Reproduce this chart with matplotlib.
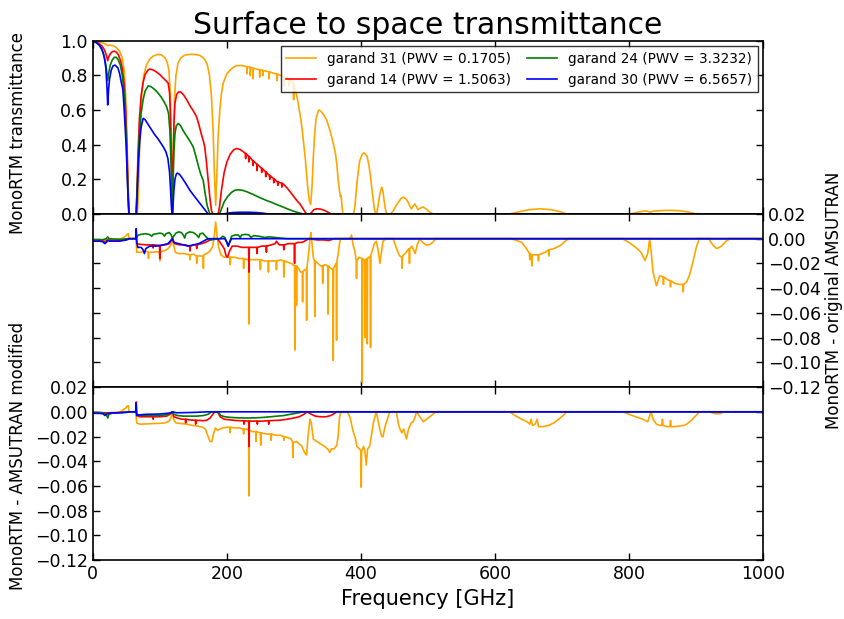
import numpy as np
import matplotlib.pyplot as plt
from matplotlib.ticker import FormatStrFormatter

plt.rcParams['font.family'] = 'DejaVu Sans'
plt.rcParams['axes.linewidth'] = 1.2

labels = ['garand 31 (PWV = 0.1705)', 'garand 14 (PWV = 1.5063)',
          'garand 24 (PWV = 3.3232)', 'garand 30 (PWV = 6.5657)']
colors = ['orange', 'red', 'green', 'blue']

# surface to space transmittance, (frequency GHz, transmittance)
trans_g31 = np.array([
    (0, 1.0), (5, 0.997), (10, 0.993), (15, 0.988), (19, 0.982), (22.2, 0.972), (25, 0.976),
    (30, 0.972), (35, 0.962), (40, 0.94), (44, 0.9), (47, 0.82), (49, 0.68), (51, 0.42),
    (53, 0.12), (54.5, 0.0), (66.5, 0.0), (68, 0.12), (69.5, 0.35), (71, 0.56), (73, 0.7),
    (76, 0.8), (80, 0.86), (85, 0.895), (90, 0.912), (97, 0.922), (103, 0.918), (108, 0.9),
    (111, 0.875), (113.5, 0.83), (115.5, 0.7), (117, 0.42), (118.75, 0.0), (120.5, 0.42),
    (122, 0.68), (124, 0.8), (127, 0.87), (131, 0.9), (136, 0.915), (140, 0.92), (145, 0.922),
    (150, 0.922), (155, 0.92), (160, 0.915), (164, 0.905), (168, 0.885), (171, 0.86),
    (174, 0.8), (177, 0.68), (179.5, 0.48), (181.5, 0.22), (183.3, 0.05), (185, 0.22),
    (187, 0.45), (189.5, 0.6), (192, 0.7), (194.5, 0.756), (200, 0.81), (204.5, 0.83),
    (210, 0.848), (214, 0.856), (220, 0.858), (226, 0.855), (229.6, 0.851), (230, 0.81),
    (230.4, 0.85), (234.6, 0.847), (235, 0.8), (235.4, 0.846), (238.6, 0.842), (239, 0.78),
    (239.4, 0.842), (244, 0.837), (248.6, 0.833), (249, 0.79), (249.4, 0.833), (253.6, 0.829),
    (254, 0.8), (254.4, 0.829), (262.6, 0.821), (263, 0.78), (263.4, 0.821), (272, 0.81),
    (274.6, 0.808), (275, 0.77), (275.4, 0.808), (284, 0.795), (284.6, 0.792), (285, 0.74),
    (285.4, 0.791), (290, 0.785), (292.6, 0.78), (293, 0.74), (293.4, 0.779), (297, 0.765),
    (299.2, 0.75), (299.6, 0.66), (300, 0.745), (301.5, 0.727), (305, 0.67), (309, 0.58),
    (312, 0.5), (314, 0.43), (317, 0.32), (319, 0.23), (321, 0.14), (323, 0.08), (325, 0.055),
    (327, 0.15), (329, 0.33), (331, 0.46), (333, 0.55), (336.8, 0.6), (340, 0.595), (344, 0.575),
    (349, 0.543), (354, 0.48), (359, 0.405), (362, 0.35), (364, 0.29), (366, 0.2),
    (368, 0.136), (369.5, 0.1), (370.5, 0.107), (371.5, 0.06), (373, 0.0), (389, 0.0),
    (391, 0.04), (394, 0.174), (396.5, 0.26), (398.5, 0.31), (402, 0.345), (404.5, 0.353),
    (407, 0.345), (409.5, 0.33), (412, 0.28), (414.5, 0.213), (416.5, 0.14), (418.5, 0.078),
    (420, 0.03), (422, 0.0), (424, 0.01), (426, 0.058), (428.5, 0.12), (431, 0.155),
    (433, 0.13), (434.6, 0.078), (436.5, 0.03), (438.6, 0.0), (444, 0.0), (448.5, 0.019),
    (452, 0.045), (456, 0.068), (460, 0.09), (463, 0.097), (467, 0.088), (470.5, 0.068),
    (473, 0.045), (475.5, 0.029), (478, 0.045), (480.5, 0.058), (483, 0.04), (485.5, 0.025),
    (489, 0.035), (493, 0.04), (497, 0.03), (500, 0.02), (504, 0.008), (508, 0.0), (622, 0.0),
    (635, 0.012), (650, 0.024), (667, 0.03), (685, 0.024), (698, 0.012), (707, 0.0),
    (801, 0.0), (815, 0.012), (826, 0.018), (831, 0.01), (836, 0.016), (850, 0.02),
    (861, 0.021), (875, 0.019), (890, 0.01), (901, 0.0), (1000, 0.0)])

trans_g14 = np.array([
    (0, 1.0), (5, 0.993), (10, 0.982), (14, 0.968), (17, 0.95), (19.5, 0.925), (21, 0.905),
    (22.2, 0.885), (23.5, 0.905), (26, 0.925), (29, 0.937), (32, 0.94), (35, 0.935), (38, 0.92),
    (41, 0.89), (44, 0.84), (47, 0.74), (49, 0.6), (51, 0.38), (52.5, 0.15), (54, 0.0),
    (64.5, 0.0), (66, 0.15), (67.5, 0.36), (69.5, 0.55), (72, 0.68), (75, 0.76), (78, 0.805),
    (82, 0.83), (85, 0.837), (90, 0.832), (95, 0.82), (100, 0.805), (105, 0.785), (109, 0.77),
    (112.4, 0.756), (114.5, 0.7), (116, 0.55), (117.3, 0.3), (118.75, 0.0), (119.8, 0.3),
    (121, 0.52), (122.5, 0.64), (125, 0.69), (128, 0.705), (131, 0.705), (135, 0.69),
    (140, 0.66), (145, 0.625), (150, 0.595), (154.7, 0.562), (158, 0.52), (162, 0.46),
    (165, 0.42), (167, 0.388), (169.5, 0.3), (172, 0.2), (174.5, 0.1), (177, 0.02), (179, 0.0),
    (187, 0.0), (189, 0.04), (192, 0.14), (196, 0.24), (200, 0.3), (205, 0.345), (210, 0.37),
    (214.5, 0.378), (220, 0.372), (226, 0.355), (227.6, 0.35), (228, 0.32), (228.4, 0.349),
    (232, 0.335), (232.6, 0.333), (233, 0.3), (233.4, 0.332), (238, 0.31), (238.6, 0.308),
    (239, 0.28), (239.4, 0.307), (244, 0.29), (244.6, 0.288), (245, 0.25), (245.4, 0.287),
    (250, 0.27), (251.6, 0.265), (252, 0.24), (252.4, 0.264), (256, 0.25), (257.6, 0.245),
    (258, 0.215), (258.4, 0.244), (262, 0.228), (263.6, 0.223), (264, 0.2), (264.4, 0.222),
    (268, 0.21), (269.6, 0.204), (270, 0.18), (270.4, 0.203), (274, 0.19), (275.6, 0.186),
    (276, 0.165), (276.4, 0.185), (280, 0.18), (281.6, 0.178), (282, 0.155), (282.4, 0.177),
    (284, 0.174), (290, 0.15), (295, 0.125), (300, 0.1), (305, 0.075), (309, 0.058),
    (313, 0.035), (316, 0.015), (319, 0.0), (324, 0.0), (327, 0.012), (330, 0.025),
    (334, 0.03), (340, 0.028), (346, 0.02), (351, 0.01), (356, 0.0), (1000, 0.0)])

trans_g24 = np.array([
    (0, 1.0), (5, 0.99), (10, 0.972), (14, 0.945), (17, 0.91), (19.5, 0.86), (21, 0.81),
    (22.2, 0.77), (23.5, 0.81), (26, 0.86), (29, 0.89), (32, 0.905), (35, 0.905), (38, 0.89),
    (41, 0.86), (44, 0.8), (47, 0.68), (49, 0.52), (51, 0.3), (52.5, 0.1), (54, 0.0),
    (64.5, 0.0), (66, 0.12), (67.5, 0.3), (69.5, 0.46), (72, 0.58), (75, 0.66), (78, 0.71),
    (82.6, 0.74), (87, 0.735), (92, 0.72), (97, 0.7), (102, 0.675), (106, 0.65), (110, 0.62),
    (113, 0.58), (115, 0.48), (116.8, 0.28), (118.75, 0.0), (119.8, 0.2), (121, 0.36),
    (122.5, 0.46), (124.5, 0.51), (127.4, 0.523), (131, 0.51), (135, 0.48), (140, 0.45),
    (145, 0.42), (149.7, 0.388), (154, 0.33), (158, 0.27), (161, 0.23), (164.7, 0.194),
    (167.5, 0.12), (170.5, 0.05), (174.6, 0.0), (189, 0.0), (192, 0.03), (196, 0.07),
    (201, 0.1), (207, 0.125), (212, 0.137), (217, 0.14), (223, 0.137), (230, 0.128),
    (238, 0.115), (246, 0.1), (253, 0.088), (259, 0.078), (266, 0.068), (274, 0.055),
    (282, 0.043), (290, 0.03), (298, 0.018), (306, 0.008), (314, 0.0), (1000, 0.0)])

trans_g30 = np.array([
    (0, 1.0), (5, 0.99), (10, 0.975), (13, 0.955), (15.5, 0.93), (17.5, 0.895), (19.5, 0.84),
    (21, 0.74), (22.2, 0.63), (23.5, 0.72), (25, 0.78), (27.4, 0.83), (30, 0.855), (33, 0.86),
    (37.3, 0.845), (40, 0.81), (42.5, 0.76), (44.8, 0.72), (46.5, 0.62), (48.5, 0.48),
    (49.8, 0.39), (51.5, 0.2), (53.7, 0.0), (65, 0.0), (66.5, 0.15), (68, 0.3), (70, 0.42),
    (72, 0.5), (75, 0.552), (78, 0.545), (82, 0.52), (87, 0.49), (92, 0.46), (98, 0.43),
    (105, 0.388), (109, 0.36), (112, 0.32), (114.5, 0.24), (116, 0.14), (117.4, 0.03),
    (118.75, 0.0), (119.8, 0.06), (121, 0.14), (122.5, 0.2), (124.5, 0.23), (126, 0.236),
    (129, 0.23), (133, 0.21), (138, 0.18), (145, 0.136), (150, 0.11), (155, 0.085),
    (160, 0.06), (165, 0.035), (169, 0.015), (172, 0.0), (195, 0.0), (200, 0.004),
    (208, 0.008), (220, 0.01), (232, 0.01), (245, 0.008), (255, 0.004), (262, 0.0), (1000, 0.0)])

# MonoRTM minus original AMSUTRAN
diff_orig_g31 = np.array([
    (0, -0.001), (15, -0.0012), (20, -0.0005), (22.2, -0.002), (24, -0.0008), (35, -0.0008),
    (42, 0.0), (46, 0.001), (49, 0.002), (51, 0.0035), (53, 0.004), (53.8, 0.0), (64, 0.0),
    (64.5, 0.002), (65.5, -0.011), (70, -0.011), (76, -0.0105), (80, -0.01), (82.5, -0.011),
    (83, -0.016), (83.5, -0.011), (90, -0.011), (95, -0.0105), (99.5, -0.011), (100, -0.018),
    (100.5, -0.011), (105, -0.01), (110, -0.009), (114, -0.007), (117, -0.004), (118.75, 0.0),
    (120.5, -0.005), (123, -0.011), (128, -0.012), (135, -0.012), (140, -0.0125),
    (144.5, -0.013), (145, -0.017), (145.5, -0.013), (150, -0.0125), (154.5, -0.014),
    (155, -0.02), (155.5, -0.014), (160, -0.014), (164.5, -0.014), (165, -0.024),
    (165.5, -0.013), (170, -0.012), (175, -0.01), (179, -0.006), (181.5, 0.004),
    (183.3, 0.0135), (185, 0.004), (187.5, -0.006), (191, -0.013), (196, -0.015),
    (200, -0.015), (204.5, -0.015), (205, -0.021), (205.5, -0.015), (212, -0.015),
    (218, -0.016), (224.5, -0.016), (225, -0.024), (225.5, -0.016), (230, -0.017),
    (232.5, -0.017), (233, -0.069), (233.5, -0.017), (240, -0.017), (246, -0.017),
    (249.5, -0.017), (250, -0.025), (250.5, -0.017), (256, -0.018), (261.5, -0.018),
    (262, -0.027), (262.5, -0.018), (268, -0.018), (273.5, -0.018), (274, -0.025),
    (274.5, -0.018), (280, -0.017), (284.5, -0.018), (285, -0.031), (285.5, -0.018),
    (291, -0.019), (296, -0.02), (301, -0.022), (301.5, -0.09), (302, -0.022), (303.5, -0.022),
    (304, -0.054), (304.5, -0.022), (308, -0.025), (310, -0.027), (312.5, -0.027),
    (313, -0.051), (313.5, -0.027), (316, -0.025), (318.5, -0.025), (319, -0.066),
    (319.5, -0.024), (322, -0.012), (324, 0.0), (325.4, 0.005), (327, -0.004), (329, -0.015),
    (330.8, -0.018), (331.3, -0.063), (331.8, -0.018), (336, -0.02), (340, -0.022),
    (342.5, -0.022), (343, -0.036), (343.5, -0.022), (347, -0.021), (350.5, -0.022),
    (351, -0.061), (351.5, -0.022), (355, -0.024), (358.2, -0.025), (358.7, -0.0985),
    (359.2, -0.024), (361, -0.022), (363.2, -0.02), (363.7, -0.082), (364.2, -0.018),
    (366, -0.013), (368, -0.004), (370, 0.0), (384, 0.0), (386, 0.003), (388, -0.004),
    (391, -0.01), (393, -0.018), (393.5, -0.032), (394, -0.018), (397, -0.015),
    (401.5, -0.016), (402, -0.116), (402.5, -0.016), (405.5, -0.018), (406, -0.08),
    (406.5, -0.017), (409, -0.016), (409.5, -0.085), (410, -0.016), (413.9, -0.014),
    (414.4, -0.088), (414.9, -0.013), (418, -0.008), (420, -0.004), (423, -0.002),
    (426, -0.01), (428.4, -0.02), (431, -0.01), (433, -0.002), (438, 0.0), (448, 0.0),
    (452, -0.006), (456, -0.012), (458, -0.014), (461, -0.015), (461.5, -0.024),
    (462, -0.014), (466, -0.012), (470, -0.009), (472, -0.008), (472.5, -0.02), (473, -0.008),
    (476, -0.006), (481, -0.012), (484, -0.005), (488, 0.0), (492, -0.003), (497, -0.005),
    (502, -0.005), (507, -0.003), (512, 0.0), (622, 0.0), (630, -0.001), (640, -0.003),
    (647, -0.008), (651.5, -0.012), (652, -0.017), (652.5, -0.012), (654.5, -0.013),
    (655, -0.022), (655.5, -0.013), (660, -0.013), (664.5, -0.013), (665, -0.018),
    (665.5, -0.013), (670, -0.012), (675, -0.011), (680, -0.009), (680.5, -0.014),
    (681, -0.009), (688, -0.008), (692, -0.007), (699, -0.005), (707, -0.001), (712, 0.0),
    (790, 0.0), (800, -0.003), (810, -0.007), (818, -0.011), (824, -0.0176), (828, -0.012),
    (831, 0.0), (833, -0.01), (836, -0.027), (841, -0.038), (846, -0.03), (851, -0.031),
    (851.5, -0.037), (852, -0.031), (857, -0.033), (861.5, -0.034), (862, -0.039),
    (862.5, -0.034), (868, -0.036), (875, -0.037), (880.5, -0.037), (881, -0.043),
    (881.5, -0.037), (886, -0.035), (890, -0.03), (893, -0.024), (897, -0.015),
    (901, -0.006), (905, 0.0), (919, 0.0), (925, -0.005), (931, -0.008), (938, -0.006),
    (945, -0.002), (951, 0.0), (1000, 0.0)])

diff_orig_g14 = np.array([
    (0, -0.0015), (15, -0.0018), (18, -0.0025), (22.2, -0.001), (30, -0.0015), (45, -0.001),
    (53, -0.0005), (54, 0.0), (64, 0.0), (64.8, 0.008), (65.5, -0.004), (70, -0.0045),
    (80, -0.005), (89.5, -0.005), (90, -0.0075), (90.5, -0.005), (99.5, -0.0055), (100, -0.016),
    (100.5, -0.0055), (108, -0.005), (114, -0.004), (118.75, 0.0), (122, -0.004), (130, -0.005),
    (138, -0.005), (144.5, -0.006), (145, -0.01), (145.5, -0.006), (150, -0.005),
    (154.5, -0.005), (155, -0.008), (155.5, -0.005), (162, -0.004), (168, -0.003),
    (175, -0.001), (180, 0.0), (186, 0.0), (190, -0.003), (196, -0.008), (199, -0.014),
    (201, -0.015), (204, -0.01), (208, -0.006), (215, -0.006), (222, -0.007), (228, -0.007),
    (232.5, -0.007), (233, -0.027), (233.5, -0.007), (240, -0.007), (244.5, -0.007),
    (245, -0.012), (245.5, -0.007), (252, -0.006), (258.5, -0.006), (259, -0.011),
    (259.5, -0.006), (266, -0.005), (272, -0.004), (274, -0.002), (278, -0.005),
    (284.5, -0.005), (285, -0.009), (285.5, -0.005), (292, -0.004), (300.5, -0.004),
    (301, -0.02), (301.5, -0.004), (306, -0.003), (312, -0.003), (316, -0.002), (322, 0.0),
    (335, -0.001), (345, -0.001), (352, -0.0015), (360, 0.0), (1000, 0.0)])

diff_orig_g24 = np.array([
    (0, -0.0008), (15, -0.0008), (20, 0.0), (22.2, 0.0015), (24, 0.0), (40, -0.0005),
    (54, 0.0), (64, 0.0), (65, 0.001), (68, 0.003), (72, 0.0035), (78, 0.004), (84, 0.0035),
    (88, 0.002), (90, 0.0035), (95, 0.004), (100, 0.0045), (104, 0.004), (107, 0.002),
    (109, 0.004), (114, 0.005), (117, 0.003), (118.75, 0.0), (120.5, 0.002), (124, 0.0045),
    (128, 0.0055), (132, 0.005), (135, 0.003), (137, 0.0005), (139, 0.004), (144, 0.0055),
    (150, 0.005), (155, 0.003), (158, 0.001), (160, 0.004), (164, 0.0045), (168, 0.002),
    (172, 0.0), (176, -0.001), (182, -0.0005), (190, 0.0), (194, 0.002), (197, 0.001),
    (200, -0.003), (202, -0.006), (204, -0.003), (207, 0.002), (212, 0.003), (217, 0.003),
    (220, 0.001), (222, 0.003), (228, 0.0035), (233, 0.003), (236, 0.001), (240, 0.0025),
    (248, 0.002), (256, 0.001), (264, 0.0015), (272, 0.001), (280, 0.0005), (290, 0.0),
    (1000, 0.0)])

diff_orig_g30 = np.array([
    (0, -0.002), (10, -0.002), (15, -0.0025), (18, -0.004), (20, -0.003), (22.2, -0.0015),
    (25, -0.002), (40, -0.002), (50, -0.001), (54, 0.0), (64, 0.0), (64.5, 0.008),
    (65.5, -0.002), (67, -0.007), (72, -0.007), (75, -0.009), (77, -0.012), (79, -0.008),
    (85, -0.006), (95, -0.006), (105, -0.005), (112, -0.004), (118.75, 0.0), (121, -0.003),
    (128, -0.004), (135, -0.005), (142, -0.006), (150, -0.005), (158, -0.004), (165, -0.002),
    (172, 0.0), (197, 0.0), (200, -0.003), (202, -0.006), (204, -0.003), (207, 0.0),
    (1000, 0.0)])

# MonoRTM minus modified AMSUTRAN
diff_mod_g31 = np.array([
    (0, -0.001), (15, -0.0015), (22.2, -0.001), (35, -0.001), (42, 0.0), (46, 0.002),
    (49, 0.003), (51, 0.0045), (53, 0.005), (53.8, 0.0), (64, 0.0), (65.5, -0.009),
    (70, -0.01), (80, -0.0098), (90, -0.0095), (100, -0.0093), (108, -0.009), (114, -0.0075),
    (117, -0.004), (118.75, 0.0), (120.5, -0.006), (124, -0.009), (132, -0.0095), (140, -0.01),
    (148, -0.011), (156, -0.0115), (164, -0.0125), (168, -0.014), (172, -0.02), (175, -0.024),
    (177.5, -0.024), (180, -0.018), (183, -0.013), (186, -0.015), (190, -0.014),
    (194, -0.013), (200, -0.0125), (204.5, -0.0125), (205, -0.017), (205.5, -0.0125),
    (212, -0.013), (218, -0.013), (224.5, -0.014), (225, -0.018), (225.5, -0.014),
    (230, -0.014), (232.5, -0.015), (233, -0.068), (233.5, -0.015), (238, -0.016),
    (243, -0.016), (243.5, -0.024), (244, -0.016), (250, -0.017), (250.5, -0.027),
    (251, -0.017), (260, -0.018), (265.5, -0.018), (266, -0.023), (266.5, -0.018),
    (274, -0.019), (280, -0.019), (284.5, -0.02), (285, -0.023), (285.5, -0.02),
    (292, -0.021), (296, -0.022), (298, -0.025), (298.5, -0.037), (299, -0.025),
    (304, -0.024), (308, -0.026), (312, -0.028), (316, -0.033), (319, -0.035), (321, -0.02),
    (324, -0.006), (326, -0.009), (329, -0.022), (334, -0.024), (340, -0.026), (346, -0.028),
    (352, -0.031), (353.5, -0.033), (356, -0.03), (360, -0.03), (364, -0.027), (366, -0.02),
    (368, -0.005), (370, 0.0), (380, 0.0), (384, -0.005), (388, -0.015), (392, -0.022),
    (394, -0.028), (398, -0.03), (400, -0.032), (400.5, -0.061), (401, -0.032), (404, -0.028),
    (406, -0.032), (408, -0.043), (410, -0.03), (413, -0.028), (416, -0.018), (419, -0.008),
    (423, 0.0), (426, -0.008), (428, -0.0135), (431, -0.02), (433, -0.02), (436, -0.012),
    (440, -0.005), (443, 0.0), (453, 0.0), (456, -0.01), (458, -0.0135), (461, -0.017),
    (464, -0.014), (468, -0.022), (471, -0.014), (475, -0.009), (478, -0.008), (481, -0.004),
    (483, 0.0), (488, -0.004), (493, -0.008), (498, -0.006), (505, -0.003), (512, 0.0),
    (622, 0.0), (630, -0.003), (640, -0.006), (648, -0.008), (652, -0.01), (654, -0.006),
    (656, -0.011), (660, -0.01), (663, -0.006), (665, -0.012), (672, -0.012), (680, -0.011),
    (688, -0.009), (695, -0.006), (702, -0.003), (707, 0.0), (791, 0.0), (800, -0.002),
    (810, -0.004), (821, -0.006), (828, -0.008), (833, 0.0), (836, -0.006), (841, -0.01),
    (846, -0.011), (849, -0.011), (850, -0.006), (851, -0.011), (857, -0.012), (861, -0.012),
    (862, -0.007), (863, -0.012), (868, -0.012), (875, -0.0115), (882, -0.011), (886, -0.01),
    (893, -0.007), (900, -0.003), (905, 0.0), (920, 0.0), (928, -0.0015), (936, -0.0015),
    (943, 0.0), (1000, 0.0)])

diff_mod_g14 = np.array([
    (0, -0.0005), (20, -0.0008), (40, -0.0005), (54, 0.0), (64, 0.0), (64.8, 0.008),
    (65.5, -0.003), (70, -0.004), (80, -0.004), (89.5, -0.004), (90, -0.006), (90.5, -0.004),
    (100, -0.004), (110, -0.0035), (115, -0.002), (118.75, 0.0), (121, -0.004), (126, -0.005),
    (133, -0.006), (138, -0.006), (138.5, -0.009), (139, -0.006), (145, -0.0065),
    (150, -0.0068), (153, -0.0068), (153.5, -0.01), (154, -0.0068), (160, -0.007),
    (165, -0.0072), (170, -0.0068), (175, -0.005), (179, -0.002), (182, 0.0), (186, 0.0),
    (190, -0.004), (196, -0.006), (205, -0.0065), (212, -0.007), (220, -0.0072),
    (225, -0.0072), (225.5, -0.01), (226, -0.0072), (232.5, -0.0075), (233, -0.028),
    (233.5, -0.0075), (240, -0.0075), (245, -0.0075), (245.5, -0.01), (246, -0.0075),
    (255, -0.0075), (262, -0.0072), (262.5, -0.01), (263, -0.0072), (270, -0.007),
    (280, -0.0068), (290, -0.006), (300, -0.005), (308, -0.004), (315, -0.002), (320, 0.0),
    (326, -0.002), (332, -0.0035), (340, -0.004), (348, -0.004), (355, -0.003),
    (360, -0.0015), (364, 0.0), (1000, 0.0)])

diff_mod_g24 = np.array([
    (0, -0.0005), (15, -0.0008), (20, -0.002), (22.2, -0.005), (24, -0.002), (30, -0.001),
    (45, -0.0005), (54, 0.0), (64, 0.0), (66, -0.002), (70, -0.0028), (80, -0.003),
    (90, -0.003), (100, -0.003), (108, -0.0025), (114, -0.0015), (118.75, 0.0), (121, -0.002),
    (126, -0.003), (135, -0.0035), (145, -0.0035), (155, -0.0035), (165, -0.003),
    (172, -0.002), (177, 0.0), (187, 0.0), (191, -0.003), (197, -0.004), (205, -0.0045),
    (215, -0.0048), (225, -0.005), (235, -0.005), (245, -0.0048), (255, -0.0045),
    (265, -0.004), (275, -0.0035), (285, -0.003), (295, -0.002), (305, -0.001), (314, 0.0),
    (1000, 0.0)])

diff_mod_g30 = np.array([
    (0, -0.0012), (10, -0.0012), (15, -0.0015), (18, -0.003), (20, -0.002), (25, -0.001),
    (40, -0.0008), (50, -0.0005), (54, 0.0), (64, 0.0), (64.5, 0.007), (65.5, -0.003),
    (68, -0.0025), (80, -0.002), (100, -0.0018), (115, -0.001), (118.75, 0.0), (125, -0.0008),
    (150, -0.0005), (172, 0.0), (1000, 0.0)])

trans = [trans_g31, trans_g14, trans_g24, trans_g30]
diff_orig = [diff_orig_g31, diff_orig_g14, diff_orig_g24, diff_orig_g30]
diff_mod = [diff_mod_g31, diff_mod_g14, diff_mod_g24, diff_mod_g30]

fig, ax = plt.subplots(3, 1, sharex=True, figsize=(8.44, 6.19), dpi=100)
plt.subplots_adjust(left=0.110, right=0.904, top=0.934, bottom=0.095, hspace=0.0)

for i in range(4):
    ax[0].plot(trans[i][:, 0], trans[i][:, 1], color=colors[i], lw=1.2, label=labels[i])
    ax[1].plot(diff_orig[i][:, 0], diff_orig[i][:, 1], color=colors[i], lw=1.2)
    ax[2].plot(diff_mod[i][:, 0], diff_mod[i][:, 1], color=colors[i], lw=1.2)

trans_ticks = [0.0, 0.2, 0.4, 0.6, 0.8, 1.0]
diff_ticks = [0.02, 0.0, -0.02, -0.04, -0.06, -0.08, -0.10, -0.12]
ax[0].set_ylim(0, 1.0)
ax[0].set_yticks(trans_ticks)
ax[0].yaxis.set_major_formatter(FormatStrFormatter('%.1f'))
ax[1].set_ylim(-0.12, 0.02)
ax[2].set_ylim(-0.12, 0.02)
ax[1].set_yticks(diff_ticks)
ax[2].set_yticks(diff_ticks)
ax[2].set_xlim(0, 1000)
ax[2].set_xticks([0, 200, 400, 600, 800, 1000])

for a in ax:
    a.tick_params(direction='in', top=True, right=True, length=5, width=1, labelsize=12.5)

ax[1].tick_params(labelleft=False, labelright=True)
ax[1].yaxis.set_label_position('right')

ax[0].set_title('Surface to space transmittance', fontsize=21.5, pad=5)
ax[0].set_ylabel('MonoRTM transmittance', fontsize=12)
ax[1].set_ylabel('MonoRTM - original AMSUTRAN', fontsize=12)
ax[2].set_ylabel('MonoRTM - AMSUTRAN modified', fontsize=12)
ax[2].set_xlabel('Frequency [GHz]', fontsize=15)
ax[0].yaxis.set_label_coords(-0.098, 0.47)
ax[1].yaxis.set_label_coords(1.092, 0.5)
ax[2].yaxis.set_label_coords(-0.098, 0.6)

leg = ax[0].legend(loc='upper right', ncol=2, fontsize=9.8, fancybox=False,
                   borderaxespad=0.4, columnspacing=1.2, handlelength=2.2)
leg.get_frame().set_edgecolor('black')

plt.savefig('out.png', dpi=100)
plt.close()
